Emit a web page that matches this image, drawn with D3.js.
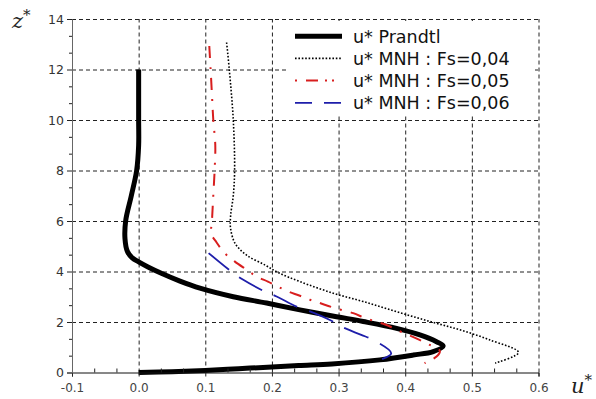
<!DOCTYPE html>
<html>
<head>
<meta charset="utf-8">
<script src="https://cdn.jsdelivr.net/npm/d3@7"></script>
<style>
body { margin: 0; background: #fff; }
svg { display: block; font-family: "DejaVu Sans", sans-serif; }
</style>
</head>
<body>
<div id="chart"></div>
<script>
// tick values of both axes
const xTicks = [-0.1, 0.0, 0.1, 0.2, 0.3, 0.4, 0.5, 0.6];
const yTicks = [0, 2, 4, 6, 8, 10, 12, 14];

// profiles as [u*, z*]
const prandtl = [
    [0, 12], [0, 10], [0, 9], [-0.003, 8], [-0.011, 7], [-0.0195, 6], [-0.0205, 5.3],
    [-0.017, 4.8], [-0.01, 4.55], [0.0, 4.38], [0.014, 4.18], [0.034, 3.93], [0.062, 3.62],
    [0.092, 3.34], [0.142, 3.0], [0.192, 2.75], [0.242, 2.48], [0.297, 2.21],
    [0.337, 2.02], [0.387, 1.75], [0.422, 1.49], [0.447, 1.22], [0.457, 1.05],
    [0.442, 0.83], [0.412, 0.69], [0.362, 0.5], [0.29, 0.34], [0.24, 0.28],
    [0.2, 0.22], [0.15, 0.15], [0.1, 0.08], [0.05, 0.03], [0, 0]
];
const mnh004 = [
    [0.132, 13.07], [0.136, 12], [0.142, 10], [0.144, 8], [0.142, 7], [0.138, 6.2],
    [0.138, 5.7], [0.145, 5.1], [0.162, 4.65], [0.19, 4.25], [0.21, 3.95],
    [0.242, 3.6], [0.292, 3.14], [0.337, 2.81], [0.387, 2.41], [0.437, 2.02],
    [0.482, 1.69], [0.527, 1.29], [0.57, 0.79], [0.535, 0.37]
];
const mnh005 = [
    [0.106, 12.93], [0.108, 12], [0.11, 11], [0.112, 10], [0.115, 9], [0.114, 8],
    [0.112, 7], [0.11, 6], [0.109, 5.5], [0.117, 5.15], [0.129, 4.73], [0.144, 4.4],
    [0.162, 4.07], [0.177, 3.8], [0.194, 3.6], [0.209, 3.4], [0.224, 3.21],
    [0.242, 3.04], [0.257, 2.88], [0.272, 2.75], [0.292, 2.57], [0.322, 2.35],
    [0.34, 2.15], [0.372, 1.88], [0.387, 1.69], [0.419, 1.32], [0.437, 1.09],
    [0.452, 0.85], [0.447, 0.63], [0.429, 0.37]
];
const mnh006 = [
    [0.105, 4.73], [0.139, 4.0], [0.157, 3.67], [0.189, 3.21], [0.207, 3.01],
    [0.237, 2.61], [0.257, 2.42], [0.287, 2.08], [0.304, 1.82], [0.334, 1.49],
    [0.352, 1.29], [0.379, 0.76], [0.357, 0.45]
];
const seriesNames = ["u* Prandtl", "u* MNH : Fs=0,04", "u* MNH : Fs=0,05", "u* MNH : Fs=0,06"];

// look of each series
const styles = [
    { color: "#000", width: 5, dash: null, legendDash: null },
    { color: "#000", width: 1.6, dash: "1.6,1.8", legendDash: "1.6,1.8" },
    { color: "#d81e1e", width: 2, dash: "12,9,2,9", legendDash: "2,9,12,7,2,5,2,9" },
    { color: "#1e1eaa", width: 1.8, dash: "26,13", legendDash: "17,12" }
];

const width = 596, height = 399;
const margin = { top: 19, right: 57.5, bottom: 26.5, left: 72 };
const innerW = width - margin.left - margin.right;
const innerH = height - margin.top - margin.bottom;

const svg = d3.select("#chart").append("svg")
    .attr("width", width)
    .attr("height", height);

const xScale = d3.scaleLinear().domain([-0.1, 0.6]).range([margin.left, margin.left + innerW]);
const yScale = d3.scaleLinear().domain([0, 14]).range([margin.top + innerH, margin.top]);

// minor ticks: two between each pair of majors
const xMinor = [];
for (let i = 0; i < xTicks.length - 1; i++) {
    const step = (xTicks[i + 1] - xTicks[i]) / 3;
    xMinor.push(xTicks[i] + step, xTicks[i] + 2 * step);
}
const yMinor = [];
for (let i = 0; i < yTicks.length - 1; i++) {
    const step = (yTicks[i + 1] - yTicks[i]) / 3;
    yMinor.push(yTicks[i] + step, yTicks[i] + 2 * step);
}

// dashed grid
const grid = svg.append("g").attr("class", "grid");
grid.append("g")
    .attr("transform", `translate(0,${margin.top + innerH})`)
    .call(d3.axisBottom(xScale).tickValues(xTicks.slice(1)).tickSize(-innerH).tickFormat(""));
grid.append("g")
    .attr("transform", `translate(${margin.left},0)`)
    .call(d3.axisLeft(yScale).tickValues(yTicks.slice(1)).tickSize(-innerW).tickFormat(""));
grid.selectAll(".domain").remove();
grid.selectAll("line")
    .attr("stroke", "#111")
    .attr("stroke-width", 1)
    .attr("stroke-dasharray", "4,3");

// curves
const line = d3.line()
    .x(d => xScale(d[0]))
    .y(d => yScale(d[1]))
    .curve(d3.curveCatmullRom.alpha(0.5));

const allSeries = [prandtl, mnh004, mnh005, mnh006];
allSeries.forEach((s, i) => {
    svg.append("path")
        .datum(s)
        .attr("fill", "none")
        .attr("stroke", styles[i].color)
        .attr("stroke-width", styles[i].width)
        .attr("stroke-dasharray", styles[i].dash)
        .attr("stroke-linejoin", "round")
        .attr("d", line);
});

// axes (plain hyphen for negatives, like the original)
const xFmt = d => d3.format(".1f")(d).replace("\u2212", "-");
const xAxisG = svg.append("g")
    .attr("transform", `translate(0,${margin.top + innerH})`)
    .call(d3.axisBottom(xScale).tickValues(xTicks).tickSize(4).tickFormat(xFmt));
xAxisG.append("g")
    .call(d3.axisBottom(xScale).tickValues(xMinor).tickSize(-4).tickFormat(""))
    .select(".domain").remove();

const yAxisG = svg.append("g")
    .attr("transform", `translate(${margin.left},0)`)
    .call(d3.axisLeft(yScale).tickValues(yTicks).tickSize(5).tickFormat(d3.format("d")));
yAxisG.append("g")
    .call(d3.axisLeft(yScale).tickValues(yMinor).tickSize(3).tickFormat(""))
    .select(".domain").remove();

svg.selectAll(".tick line").attr("stroke", "#222");
xAxisG.select(".domain").attr("stroke", "#111");
yAxisG.select(".domain").attr("stroke", "#666");
xAxisG.selectAll("text")
    .attr("font-family", "DejaVu Sans")
    .attr("font-size", 12)
    .attr("fill", "#444")
    .attr("dy", "0.85em")
    .attr("y", 9);
yAxisG.selectAll("text")
    .attr("font-family", "DejaVu Sans")
    .attr("font-size", 12.5)
    .attr("fill", "#333")
    .attr("x", -8);

// axis titles
const zTitle = svg.append("text")
    .attr("x", 12).attr("y", 28)
    .attr("font-family", "DejaVu Serif")
    .attr("font-style", "italic")
    .attr("font-size", 21)
    .attr("fill", "#222");
zTitle.append("tspan").text("z");
zTitle.append("tspan").attr("font-size", 15).attr("font-style", "normal").attr("dy", -8).text("*");

const uTitle = svg.append("text")
    .attr("x", 571).attr("y", 393)
    .attr("font-family", "DejaVu Serif")
    .attr("font-style", "italic")
    .attr("font-size", 21)
    .attr("fill", "#222");
uTitle.append("tspan").text("u");
uTitle.append("tspan").attr("font-size", 15).attr("font-style", "normal").attr("dy", -8).text("*");

// legend
const legend = svg.append("g");
legend.append("rect")
    .attr("x", 286).attr("y", 21)
    .attr("width", 249).attr("height", 95)
    .attr("fill", "#fff");

const rowY = d => 42.7 + d * 22.2;
seriesNames.forEach((name, i) => {
    legend.append("line")
        .attr("x1", 295).attr("x2", 342)
        .attr("y1", rowY(i) - 6.5).attr("y2", rowY(i) - 6.5)
        .attr("stroke", styles[i].color)
        .attr("stroke-width", styles[i].width)
        .attr("stroke-dasharray", styles[i].legendDash);
    legend.append("text")
        .attr("x", 353).attr("y", rowY(i))
        .attr("font-size", 17.5)
        .attr("fill", "#111")
        .text(name);
});
</script>
</body>
</html>
